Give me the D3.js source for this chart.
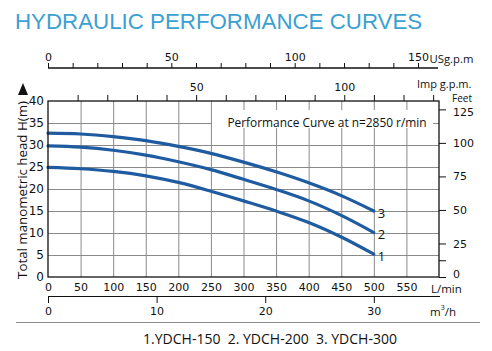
<!DOCTYPE html>
<html><head><meta charset="utf-8">
<script src="https://cdn.jsdelivr.net/npm/d3@7"></script>
<style>
html,body{margin:0;padding:0;background:#fff;}
svg{display:block;}
text{font-family:"Open Sans","DejaVu Sans",sans-serif;fill:#111;}
</style></head>
<body>
<svg id="chart" width="492" height="351"></svg>
<script>
// ---- data ----
const flowLmin = [0, 50, 100, 150, 200, 250, 300, 350, 400, 450, 500];
const headYDCH150 = [24.9, 24.6, 24.0, 23.0, 21.5, 19.5, 17.3, 15.0, 12.4, 9.1, 5.2];
const headYDCH200 = [29.8, 29.5, 28.8, 27.7, 26.2, 24.4, 22.2, 19.9, 17.3, 14.0, 10.1];
const headYDCH300 = [32.7, 32.5, 31.9, 31.0, 29.7, 28.1, 26.1, 23.9, 21.4, 18.5, 15.0];
const seriesLabels = ["1", "2", "3"];
const lminTicks = [0, 50, 100, 150, 200, 250, 300, 350, 400, 450, 500, 550];
const headTicks = [0, 5, 10, 15, 20, 25, 30, 35, 40];
const feetTicks = [0, 25, 50, 75, 100, 125];
const feetMinorTicks = [12.5];
const m3hTicks = [0, 10, 20, 30];
const usgpmTicks = d3.range(0, 151, 10);
const usgpmLabels = [0, 50, 100, 150];
const impgpmTicks = d3.range(10, 131, 10);
const impgpmLabels = [50, 100];
const title = "HYDRAULIC PERFORMANCE CURVES";
const note = "Performance Curve at n=2850 r/min";
const legendText = "1.YDCH-150  2. YDCH-200  3. YDCH-300";

const svg = d3.select("#chart");
const L = 48, R = 439, T = 101, B = 277;
const x = d3.scaleLinear().domain([0, 600]).range([L, R]);
const y = d3.scaleLinear().domain([0, 40]).range([B, T]);
const yFt = d3.scaleLinear().domain([0, 40 * 3.28084]).range([B, T]);
const xUS = d3.scaleLinear().domain([0, 600 / 3.78541]).range([L, R]);
const xImp = d3.scaleLinear().domain([0, 600 / 4.54609]).range([L, R]);
const xM3 = d3.scaleLinear().domain([0, 36]).range([L, R]);
const numFont = '"DejaVu Sans",sans-serif';

// title
svg.append("text").attr("x", 15).attr("y", 28.5).text(title)
  .style("font-family", '"Liberation Sans", Arial, sans-serif')
  .style("font-size", "22.3px").style("fill", "#3ba0d2");

// grid
const grid = svg.append("g").attr("stroke", "#8a8a8a").attr("stroke-width", 1);
grid.selectAll(".vg").data(lminTicks.filter(d => d > 0)).join("line")
  .attr("x1", d => x(d) + 0.5).attr("x2", d => x(d) + 0.5).attr("y1", T).attr("y2", B);
grid.selectAll(".hg").data(headTicks.filter(d => d > 0 && d < 40)).join("line")
  .attr("y1", d => y(d) + 0.5).attr("y2", d => y(d) + 0.5).attr("x1", L).attr("x2", R);

// note with white box
svg.append("rect").attr("x", 212).attr("y", 110).attr("width", 221).attr("height", 18).attr("fill", "#fff");
svg.append("text").attr("x", 327).attr("y", 122).attr("text-anchor", "middle")
  .attr("dominant-baseline", "central").style("font-size", "11.9px").text(note);

// curves
const line = d3.line().x(d => x(d[0])).y(d => y(d[1])).curve(d3.curveMonotoneX);
const series = [headYDCH150, headYDCH200, headYDCH300];
series.forEach((s, i) => {
  const pts = flowLmin.map((q, j) => [q, s[j]]);
  svg.append("path").attr("d", line(pts)).attr("fill", "none")
    .attr("stroke", "#1f5ba0").attr("stroke-width", 3.2).attr("stroke-linecap", "round");
  svg.append("text").attr("x", x(flowLmin[flowLmin.length - 1]) + 4)
    .attr("y", y(s[s.length - 1]) + 1.5).attr("dominant-baseline", "central")
    .style("font-size", "13px").text(seriesLabels[i]);
});

// frame
svg.append("rect").attr("x", L).attr("y", T).attr("width", R - L).attr("height", B - T)
  .attr("fill", "none").attr("stroke", "#111").attr("stroke-width", 1.3);

// left axis
const yAxis = svg.append("g").attr("transform", `translate(${L},0)`)
  .call(d3.axisLeft(y).tickValues(headTicks).tickSize(0).tickPadding(4));
yAxis.select(".domain").remove();
yAxis.selectAll("text").style("font-size", "12px").style("font-family", numFont).attr("fill", "#111");

// right feet axis
const rAxis = svg.append("g").attr("transform", `translate(${R},0)`)
  .call(d3.axisRight(yFt).tickValues(feetTicks.concat(feetMinorTicks)).tickSize(7).tickPadding(7)
    .tickFormat(d => feetTicks.includes(d) ? d : ""));
rAxis.select(".domain").remove();
rAxis.selectAll("line").attr("stroke", "#111");
rAxis.selectAll("text").style("font-size", "11px").style("font-family", numFont).attr("fill", "#111");
rAxis.selectAll(".tick").filter(d => d === 0).select("text").attr("dy", "0.05em");
rAxis.selectAll(".tick").filter(d => d === 125).select("text").attr("dy", "0.6em");
svg.append("text").attr("x", 452).attr("y", 98).attr("dominant-baseline", "central")
  .style("font-size", "10px").text("Feet");

// bottom L/min labels
const bAxis = svg.append("g").attr("transform", `translate(0,${B})`)
  .call(d3.axisBottom(x).tickValues(lminTicks).tickSize(0).tickPadding(6));
bAxis.select(".domain").remove();
bAxis.selectAll("text").style("font-size", "11px").style("font-family", numFont).attr("fill", "#111");
svg.append("text").attr("x", 431).attr("y", 288).attr("dominant-baseline", "central")
  .style("font-size", "11.5px").text("L/min");

// m3/h axis
const mAxis = svg.append("g").attr("transform", `translate(0,296)`)
  .call(d3.axisBottom(xM3).tickValues(m3hTicks).tickSize(7).tickPadding(4));
mAxis.select(".domain").attr("d", `M${L},0.5H${R + 1}`).attr("stroke", "#111").attr("stroke-width", 1.2);
mAxis.selectAll("line").attr("stroke", "#111");
mAxis.selectAll("text").style("font-size", "11px").style("font-family", numFont).attr("fill", "#111");
const m3 = svg.append("text").attr("x", 430).attr("y", 311).attr("dominant-baseline", "central")
  .style("font-size", "11.5px");
m3.append("tspan").text("m");
m3.append("tspan").attr("dy", -4).style("font-size", "7px").text("3");
m3.append("tspan").attr("dy", 4).text("/h");

// US gpm axis
const usAxis = svg.append("g").attr("transform", `translate(0,68)`)
  .call(d3.axisTop(xUS).tickValues(usgpmTicks).tickSize(5).tickPadding(2)
    .tickFormat(d => usgpmLabels.includes(d) ? d : ""));
usAxis.select(".domain").attr("d", `M${L},0H${R - 1}`).attr("stroke", "#111").attr("stroke-width", 1.3);
usAxis.selectAll("line").attr("stroke", "#111");
usAxis.selectAll("text").style("font-size", "11px").style("font-family", numFont).attr("fill", "#111");
svg.append("text").attr("x", 429.5).attr("y", 58).attr("dominant-baseline", "central")
  .style("font-size", "11.3px").text("USg.p.m");

// Imp gpm axis (on top frame)
const impAxis = svg.append("g").attr("transform", `translate(0,${T})`)
  .call(d3.axisTop(xImp).tickValues(impgpmTicks).tickSize(6).tickPadding(4)
    .tickFormat(d => impgpmLabels.includes(d) ? d : ""));
impAxis.select(".domain").remove();
impAxis.selectAll("line").attr("stroke", "#111");
impAxis.selectAll("text").style("font-size", "11px").style("font-family", numFont).attr("fill", "#111");
svg.append("text").attr("x", 417).attr("y", 83.8).attr("dominant-baseline", "central")
  .style("font-size", "11px").text("Imp g.p.m.");

// y title and arrow
svg.append("text").attr("transform", `translate(22,190) rotate(-90)`)
  .attr("text-anchor", "middle").attr("dominant-baseline", "central")
  .style("font-size", "13.3px").text("Total manometric head H(m)");
svg.append("path").attr("d", "M23,83L28,95L18,95Z").attr("fill", "#111");

// separator and legend
svg.append("line").attr("x1", 16).attr("x2", 480).attr("y1", 322.5).attr("y2", 322.5)
  .attr("stroke", "#8a8a8a").attr("stroke-width", 1.2);
svg.append("text").attr("x", 270).attr("y", 338).attr("text-anchor", "middle")
  .attr("dominant-baseline", "central").style("font-size", "14px").attr("xml:space", "preserve")
  .style("white-space", "pre").text(legendText);
</script>
</body></html>
